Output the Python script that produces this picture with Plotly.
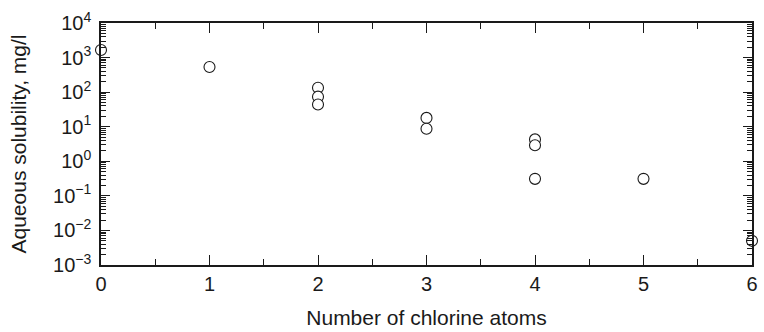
import plotly.graph_objects as go

# Number of chlorine atoms per congener and measured aqueous solubility (mg/l)
chlorine_atoms = [0, 1, 2, 2, 2, 3, 3, 4, 4, 4, 5, 6]
solubility_mg_l = [1650, 535, 134, 74, 44, 18, 8.7, 4.3, 2.9, 0.31, 0.31, 0.005]

x_ticks = [0, 1, 2, 3, 4, 5, 6]
y_exponents = [-3, -2, -1, 0, 1, 2, 3, 4]
y_tickvals = [10.0 ** e for e in y_exponents]
y_ticktext = ["10<sup>%s</sup>" % (str(e).replace("-", "\u2212")) for e in y_exponents]

FONT = "Liberation Sans, Arial, Helvetica, sans-serif"
INK = "#1a1a1a"

fig = go.Figure(
    go.Scatter(
        x=chlorine_atoms,
        y=solubility_mg_l,
        mode="markers",
        marker=dict(symbol="circle", size=11, color="white",
                    line=dict(color=INK, width=1.1)),
        cliponaxis=False,
        showlegend=False,
    )
)

fig.update_layout(
    width=764,
    height=332,
    margin=dict(l=101, r=6, t=23, b=65),
    paper_bgcolor="white",
    plot_bgcolor="white",
    font=dict(family=FONT, size=20, color=INK),
)

fig.update_xaxes(
    range=[0, 6],
    tickvals=x_ticks,
    ticks="inside",
    ticklen=10,
    tickwidth=1.3,
    tickcolor=INK,
    showline=True,
    linecolor=INK,
    linewidth=1.5,
    mirror="allticks",
    showgrid=False,
    zeroline=False,
    minor=dict(dtick=0.5, ticks="inside", ticklen=6, tickwidth=1.1,
               tickcolor=INK, showgrid=False),
    title=dict(text="Number of chlorine atoms", font=dict(size=21), standoff=17),
    tickfont=dict(size=20),
)

fig.update_yaxes(
    type="log",
    range=[-3, 4],
    tickvals=y_tickvals,
    ticktext=y_ticktext,
    ticks="inside",
    ticklen=9,
    tickwidth=1.3,
    tickcolor=INK,
    showline=True,
    linecolor=INK,
    linewidth=1.5,
    mirror="allticks",
    showgrid=False,
    zeroline=False,
    ticklabelstandoff=4,
    minor=dict(dtick="D1", ticks="inside", ticklen=5, tickwidth=1,
               tickcolor=INK, showgrid=False),
    title=dict(text="Aqueous solubility, mg/l", font=dict(size=21), standoff=21),
    tickfont=dict(size=20),
)

fig.write_html("out.html")
